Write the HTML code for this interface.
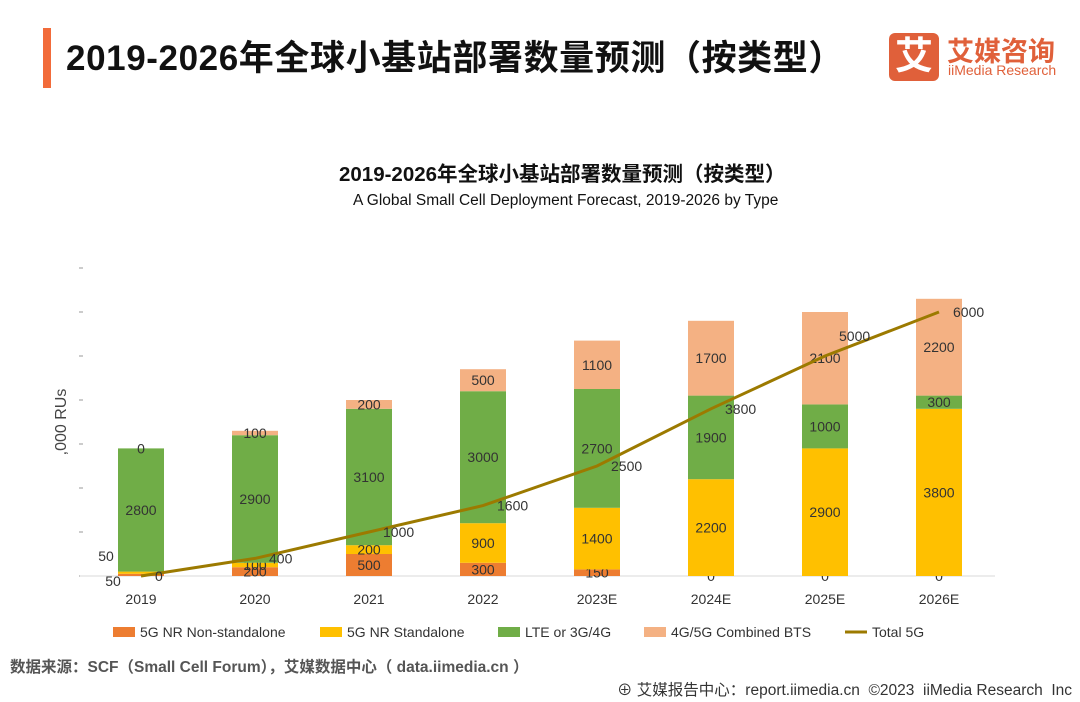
<!DOCTYPE html>
<html><head><meta charset="utf-8"><style>
body{margin:0;width:1080px;height:702px;background:#fff;overflow:hidden;position:relative;font-family:"Liberation Sans","Noto Sans CJK SC",sans-serif;}
.abs{position:absolute;}
</style></head><body>
<div class="abs" style="left:43px;top:28px;width:8px;height:60px;background:#F26B3A"></div>
<div class="abs" style="left:66px;top:30px;font-size:35px;font-weight:bold;color:#111;letter-spacing:0.6px">2019-2026年全球小基站部署数量预测（按类型）</div>
<div class="abs" style="left:889px;top:33px;width:50px;height:48px;background:#E0603A;border-radius:6px;color:#fff;font-size:38px;font-weight:bold;text-align:center;line-height:48px">艾</div>
<div class="abs" style="left:947px;top:30px;font-size:27px;font-weight:bold;color:#E0603A">艾媒咨询</div>
<div class="abs" style="left:948px;top:62px;font-size:14px;color:#E0603A">iiMedia Research</div>
<div class="abs" style="left:339px;top:157px;font-size:20.5px;font-weight:bold;color:#111">2019-2026年全球小基站部署数量预测（按类型）</div>
<div class="abs" style="left:353px;top:192px;font-size:15.5px;color:#111">A Global Small Cell Deployment Forecast, 2019-2026 by Type</div>
<svg class="abs" style="left:0;top:0" width="1080" height="702" id="chart"></svg>
<div class="abs" style="left:10px;top:655px;font-size:15.5px;color:#555;font-weight:bold">数据来源：SCF（Small Cell Forum），艾媒数据中心（ data.iimedia.cn ）</div>
<div class="abs" style="left:617px;top:678px;font-size:15.5px;color:#333">⊕ 艾媒报告中心：report.iimedia.cn &nbsp;©2023 &nbsp;iiMedia Research &nbsp;Inc</div>
<script>
const categories=["2019","2020","2021","2022","2023E","2024E","2025E","2026E"];
const nonStandalone=[50,200,500,300,150,0,0,0];
const standalone=[50,100,200,900,1400,2200,2900,3800];
const lte=[2800,2900,3100,3000,2700,1900,1000,300];
const combined=[0,100,200,500,1100,1700,2100,2200];
const total5g=[0,400,1000,1600,2500,3800,5000,6000];
const yTicks=[0,1000,2000,3000,4000,5000,6000,7000];
const NS="http://www.w3.org/2000/svg";
const svg=document.getElementById('chart');
const y0=576,yMax=7000,ph=308,x0=141,step=114,bw=46;
const y=v=>y0-v/yMax*ph;
const x=i=>x0+i*step;
function mk(t,a){const e=document.createElementNS(NS,t);for(const k in a)e.setAttribute(k,a[k]);svg.appendChild(e);return e;}
yTicks.forEach(t=>{const e=mk('line',{x1:79,x2:83,y1:y(t),y2:y(t),stroke:'#999'});

});
const ax=mk('line',{x1:80,x2:995,y1:y0,y2:y0,stroke:'#d9d9d9'});


const yt=mk('text',{x:0,y:0,transform:'translate(66,422) rotate(-90)','text-anchor':'middle','font-size':16,fill:'#444','font-family':'Liberation Sans'});
yt.textContent=',000 RUs';


const series=[[nonStandalone,'#ED7D31','non-standalone'],[standalone,'#FFC000','standalone'],[lte,'#70AD47','lte'],[combined,'#F4B183','combined']];
categories.forEach((c,i)=>{
 let base=0;
 series.forEach(([arr,col,nm],si)=>{
  const v=arr[i];
  const r=mk('rect',{x:x(i)-bw/2,y:y(base+v),width:bw,height:y(base)-y(base+v),fill:col});
  
  
  let lx=x(i),ly=(y(base)+y(base+v))/2+5;
  if(i===0&&si===0){lx=x(i)-28;ly=y0+10;}
  if(i===0&&si===1){lx=x(i)-35;ly=y0-15;}
  const t=mk('text',{x:lx,y:ly,'text-anchor':'middle','font-size':14,fill:'#333','font-family':'Liberation Sans'});
  t.textContent=v;
  
  
  base+=v;
 });
 const xl=mk('text',{x:x(i),y:604,'text-anchor':'middle','font-size':14,fill:'#333','font-family':'Liberation Sans'});
 xl.textContent=c;
 
 
});
const pl=mk('polyline',{points:total5g.map((v,i)=>x(i)+','+y(v)).join(' '),fill:'none',stroke:'#9C7A00','stroke-width':3});


total5g.forEach((v,i)=>{const t=mk('text',{x:x(i)+14,y:y(v)+5-(i===6?20:0),'font-size':14,fill:'#333','font-family':'Liberation Sans'});
t.textContent=v;

});
const leg=[['5G NR Non-standalone','#ED7D31',113],['5G NR Standalone','#FFC000',320],['LTE or 3G/4G','#70AD47',498],['4G/5G Combined BTS','#F4B183',644]];
leg.forEach(([l,c,lx])=>{const r=mk('rect',{x:lx,y:627,width:22,height:10,fill:c});


const t=mk('text',{x:lx+27,y:637,'font-size':14,fill:'#333','font-family':'Liberation Sans'});t.textContent=l;

});
const ll=mk('line',{x1:845,x2:867,y1:632,y2:632,stroke:'#9C7A00','stroke-width':3});


const lt=mk('text',{x:872,y:637,'font-size':14,fill:'#333','font-family':'Liberation Sans'});lt.textContent='Total 5G';


</script>
</body></html>
